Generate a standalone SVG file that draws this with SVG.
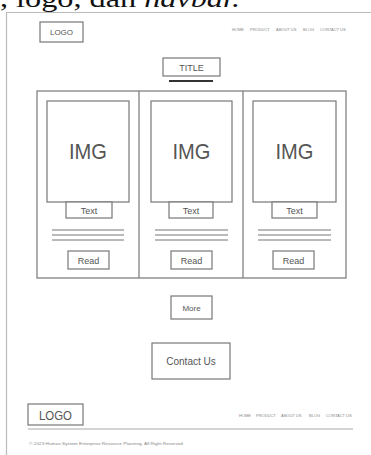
<svg xmlns="http://www.w3.org/2000/svg" width="371" height="455" viewBox="0 0 371 455">
<style>
.box{fill:#fff;stroke:#777;stroke-width:1.2}
.ln{stroke:#777;stroke-width:1.2;fill:none}
.lbl{font-family:"Liberation Sans",Arial,sans-serif;fill:#555;text-anchor:middle}
.nav{font-family:"Liberation Sans",Arial,sans-serif;fill:#888;font-size:4px}
</style>
<rect width="371" height="455" fill="#fff"/>
<text x="0" y="7" font-family="Liberation Serif,Times New Roman,serif" font-size="26" fill="#111" textLength="240" lengthAdjust="spacingAndGlyphs">, logo, dan <tspan font-style="italic">navbar.</tspan></text>
<path d="M6.5 455 V12.5 H371" fill="none" stroke="#bbb" stroke-width="1.2"/>
<g id="header">
<rect class="box" x="40" y="22" width="43" height="20" stroke-width="1.6"/>
<text class="lbl" x="61.5" y="35" font-size="8">LOGO</text>
<text class="nav" x="232" y="30.5">HOME</text>
<text class="nav" x="250" y="30.5">PRODUCT</text>
<text class="nav" x="276" y="30.5">ABOUT US</text>
<text class="nav" x="303" y="30.5">BLOG</text>
<text class="nav" x="320" y="30.5">CONTACT US</text>
</g>
<g id="title">
<rect class="box" x="163" y="58" width="57" height="18"/>
<text class="lbl" x="191.5" y="71" font-size="9">TITLE</text>
<line x1="169" y1="81" x2="213" y2="81" stroke="#333" stroke-width="2"/>
</g>
<g id="grid">
<rect class="box" x="37" y="91" width="309" height="187"/>
<line class="ln" x1="139" y1="91" x2="139" y2="278"/>
<line class="ln" x1="243" y1="91" x2="243" y2="278"/>
</g>
<g id="card1">
<rect class="box" x="47" y="101" width="82" height="101"/>
<text class="lbl" x="88" y="159" font-size="22" textLength="38" lengthAdjust="spacingAndGlyphs">IMG</text>
<rect class="box" x="66" y="202" width="46" height="16"/>
<text class="lbl" x="89" y="213.5" font-size="9">Text</text>
<path class="ln" d="M52 230H124M52 235H124M52 240H124"/>
<rect class="box" x="68" y="251" width="41" height="18"/>
<text class="lbl" x="88.5" y="263.5" font-size="9">Read</text>
</g>
<g id="card2">
<rect class="box" x="151" y="101" width="81" height="101"/>
<text class="lbl" x="191.5" y="159" font-size="22" textLength="38" lengthAdjust="spacingAndGlyphs">IMG</text>
<rect class="box" x="169" y="202" width="44" height="16"/>
<text class="lbl" x="191" y="213.5" font-size="9">Text</text>
<path class="ln" d="M155 230H228M155 235H228M155 240H228"/>
<rect class="box" x="171" y="251" width="41" height="18"/>
<text class="lbl" x="191.5" y="263.5" font-size="9">Read</text>
</g>
<g id="card3">
<rect class="box" x="253" y="101" width="83" height="101"/>
<text class="lbl" x="294.5" y="159" font-size="22" textLength="38" lengthAdjust="spacingAndGlyphs">IMG</text>
<rect class="box" x="272" y="202" width="45" height="16"/>
<text class="lbl" x="294.5" y="213.5" font-size="9">Text</text>
<path class="ln" d="M258 230H331M258 235H331M258 240H331"/>
<rect class="box" x="273" y="251" width="41" height="18"/>
<text class="lbl" x="293.5" y="263.5" font-size="9">Read</text>
</g>
<g id="more">
<rect class="box" x="171" y="296" width="41" height="23"/>
<text class="lbl" x="191.5" y="310.5" font-size="8" fill="#888">More</text>
</g>
<g id="contact">
<rect class="box" x="152" y="343" width="78" height="36"/>
<text class="lbl" x="191" y="364.5" font-size="10">Contact Us</text>
</g>
<g id="footer">
<rect class="box" x="28" y="404" width="55" height="21" stroke-width="1.6"/>
<text class="lbl" x="55.5" y="419.5" font-size="13" textLength="33" lengthAdjust="spacingAndGlyphs">LOGO</text>
<text class="nav" x="239" y="416.5">HOME</text>
<text class="nav" x="256" y="416.5">PRODUCT</text>
<text class="nav" x="281" y="416.5">ABOUT US</text>
<text class="nav" x="309" y="416.5">BLOG</text>
<text class="nav" x="326" y="416.5">CONTACT US</text>
<line x1="28" y1="429" x2="353" y2="429" stroke="#aaa" stroke-width="1.2"/>
<text class="nav" x="29" y="444.5" textLength="154" lengthAdjust="spacingAndGlyphs">© 2023 Human System Enterprise Resource Planning. All Right Reserved</text>
</g>
</svg>
